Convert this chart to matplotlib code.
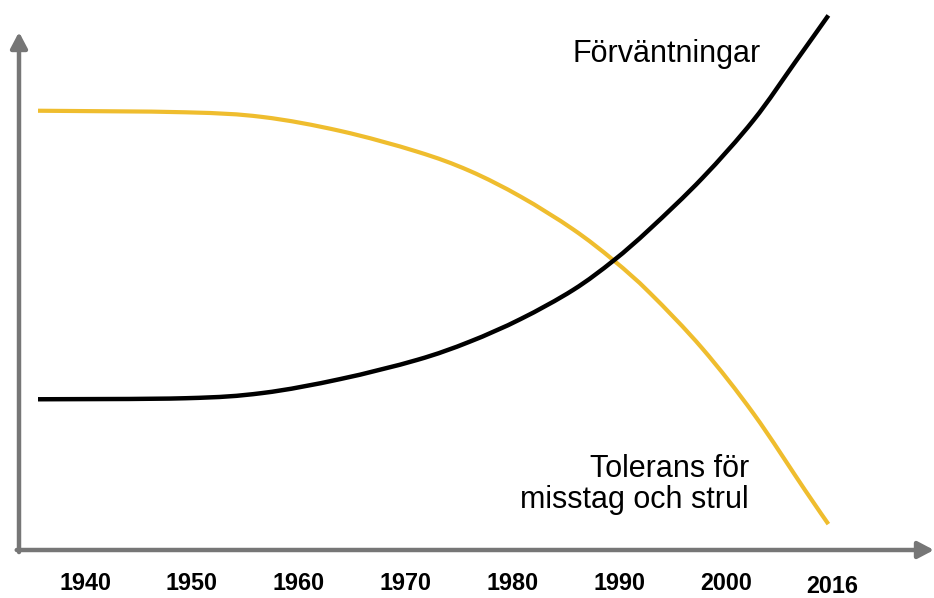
import matplotlib
matplotlib.use("Agg")
from matplotlib import pyplot as plt
from matplotlib.path import Path
from matplotlib.patches import PathPatch
import numpy as np

# ---------------- data ----------------
years_tick = [1940, 1950, 1960, 1970, 1980, 1990, 2000, 2010]
tick_labels = ["1940", "1950", "1960", "1970", "1980", "1990", "2000", "2016"]

# Förväntningar (black)
x_exp = [1935.6, 1949.4, 1956.6, 1963.9, 1971.1, 1976.0, 1980.8, 1985.7,
         1989.5, 1992.9, 1997.8, 2002.6, 2006.5, 2009.6]
y_exp = [29.1, 29.3, 30.3, 33.0, 36.7, 40.2, 44.6, 50.2,
         55.9, 62.0, 71.8, 83.0, 94.2, 103.2]

# Tolerans för misstag och strul (yellow)
x_tol = [1935.6, 1949.4, 1956.6, 1963.9, 1971.1, 1976.0, 1980.8, 1985.7,
         1989.5, 1992.9, 1997.8, 2002.6, 2007.4, 2009.6]
y_tol = [84.8, 84.5, 83.6, 80.9, 76.9, 73.2, 68.2, 61.9,
         55.9, 49.6, 38.9, 26.3, 11.6, 5.0]

grey = "#767676"
yellow = "#EFBD2E"


def smooth_path(xs, ys):
    # cubic bezier through the points (catmull-rom tangents)
    p = np.column_stack([xs, ys])
    n = len(p)
    verts = [p[0]]
    codes = [Path.MOVETO]
    for i in range(n - 1):
        p0 = p[max(i - 1, 0)]
        p1 = p[i]
        p2 = p[i + 1]
        p3 = p[min(i + 2, n - 1)]
        verts += [p1 + (p2 - p0) / 6, p2 - (p3 - p1) / 6, p2]
        codes += [Path.CURVE4] * 3
    return Path(verts, codes)


plt.rcParams['font.family'] = ['Liberation Sans', 'DejaVu Sans']

fig = plt.figure(figsize=(9.34, 5.98), dpi=100)
ax = fig.add_axes([19/934, 48/598, 915/934, 518/598])
ax.set_xlim(1933.82, 2019.49)
ax.set_ylim(0, 100)
ax.axis('off')

ax.add_patch(PathPatch(smooth_path(x_tol, y_tol), fc='none', ec=yellow,
                       lw=3.0, clip_on=False, capstyle='butt'))
ax.add_patch(PathPatch(smooth_path(x_exp, y_exp), fc='none', ec='black',
                       lw=3.2, clip_on=False, capstyle='butt'))

# axes with arrow heads
arrow = dict(arrowstyle='-|>,head_length=9.5,head_width=5.0', mutation_scale=1,
             lw=3.2, color=grey, shrinkA=0, shrinkB=0)
ax.annotate('', xy=(0, 1), xytext=(0, -0.004), xycoords='axes fraction',
            arrowprops=arrow, annotation_clip=False)
ax.annotate('', xy=(1.0, 0), xytext=(-0.0025, 0), xycoords='axes fraction',
            arrowprops=arrow, annotation_clip=False)

# year labels
for yr, lab in zip(years_tick, tick_labels):
    yoff = -0.0714 if lab == "2016" else -0.0656
    ax.text(yr, yoff, lab, transform=ax.get_xaxis_transform(), ha='center',
            va='center', fontsize=16.8, fontweight='bold')

ax.text(1985.69, 94.2, "Förväntningar", ha='left', va='baseline', fontsize=22)
ax.text(2002.17, 14.1, "Tolerans för", ha='right', va='baseline', fontsize=22)
ax.text(2002.17, 8.1, "misstag och strul", ha='right', va='baseline', fontsize=22)

fig.savefig("out.png", dpi=100)
